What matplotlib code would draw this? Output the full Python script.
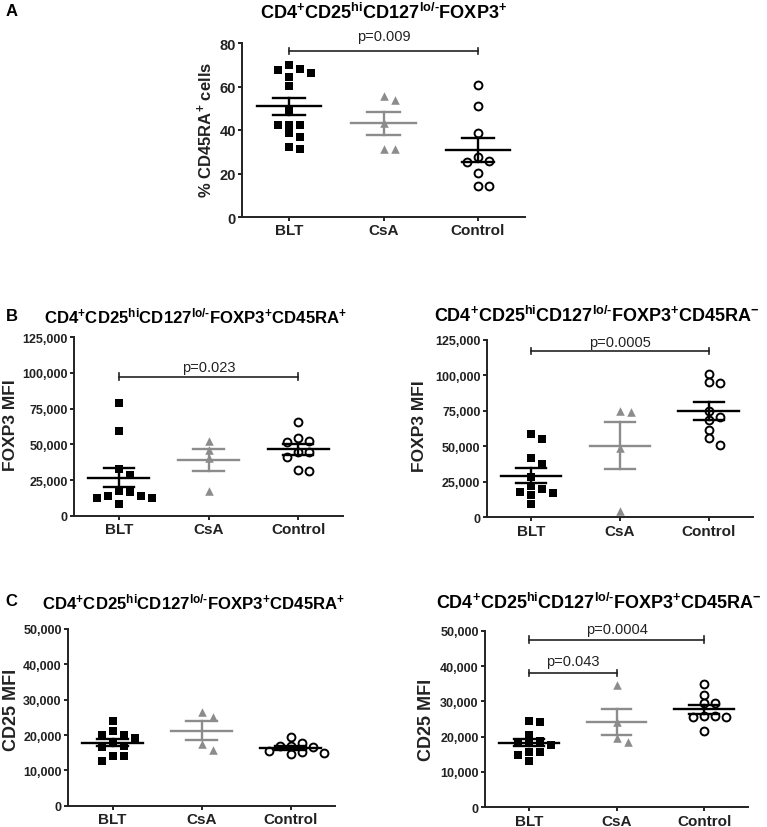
import numpy as np
import matplotlib
matplotlib.use("Agg")
import matplotlib.pyplot as plt
from matplotlib.ticker import FuncFormatter

plt.rcParams['font.family'] = ['Liberation Sans', 'DejaVu Sans']
plt.rcParams['mathtext.fontset'] = 'custom'
plt.rcParams['mathtext.rm'] = 'Liberation Sans:bold'
plt.rcParams['mathtext.it'] = 'Liberation Sans:bold'
plt.rcParams['mathtext.bf'] = 'Liberation Sans:bold'
plt.rcParams['mathtext.default'] = 'rm'

groups = ['BLT', 'CsA', 'Control']

# A: % CD45RA+ cells within CD4+CD25hiCD127lo/-FOXP3+
a_blt = [69.7, 68.0, 67.6, 66.4, 64.2, 60.2, 49.3, 42.5, 42.5, 42.5, 38.5, 36.6, 32.3, 31.1]
a_csa = [55.6, 53.6, 43.4, 31.4, 31.4]
a_ctl = [60.8, 51.0, 38.5, 27.6, 25.9, 25.3, 20.1, 14.3, 14.3]

# B: FOXP3 MFI, CD45RA+ (left) and CD45RA- (right)
b1_blt = [79000, 59600, 32700, 28500, 17200, 16400, 14000, 13600, 12600, 12600, 8200]
b1_csa = [52100, 46000, 40700, 17100]
b1_ctl = [65900, 54200, 52600, 51900, 44400, 44400, 41400, 32200, 31500]

b2_blt = [58400, 55100, 42000, 37500, 28100, 21800, 19900, 18000, 17100, 15700, 9400]
b2_csa = [74600, 73900, 48600, 4200]
b2_ctl = [101000, 95400, 94700, 74800, 70400, 68700, 61200, 55600, 51100]

# C: CD25 MFI, CD45RA+ (left) and CD45RA- (right)
c1_blt = [23900, 21000, 20100, 20100, 19200, 18100, 17000, 16500, 14200, 14000, 12600]
c1_csa = [26400, 25200, 17500, 15800]
c1_ctl = [19300, 17700, 17000, 16800, 16500, 15600, 15100, 14900, 14600]

c2_blt = [24400, 24100, 20600, 18900, 18600, 18400, 17500, 15600, 15600, 14800, 13100]
c2_csa = [34600, 24200, 19500, 18600]
c2_ctl = [34900, 31900, 29500, 29400, 25800, 25800, 25500, 25500, 21500]

GREY = '#8c8c8c'
W, H = 767, 828
fig = plt.figure(figsize=(W / 100, H / 100), dpi=100)


def box(l, t, r, b):
    return [l / W, 1 - b / H, (r - l) / W, (b - t) / H]


def swarm(ax, x0, vals, step_px=11, diam_px=7.5):
    vals = np.asarray(vals, float)
    ys = ax.transData.transform(np.column_stack([np.full(len(vals), x0), vals]))[:, 1]
    placed = []
    cols = np.zeros(len(vals))
    for i in np.argsort(-vals, kind='stable'):
        for c in [0, 1, -1, 2, -2, 3, -3]:
            if all(pc != c or abs(py - ys[i]) >= diam_px for pc, py in placed):
                break
        placed.append((c, ys[i]))
        cols[i] = c
    ppu = ax.transData.transform((1, 0))[0] - ax.transData.transform((0, 0))[0]
    return x0 + cols * step_px / ppu


def panel(pos, data, ymax, ystep, ylabel, ylab_xy, ylab_size, tick_size, xt_size, bars):
    ax = fig.add_axes(pos)
    ax.set_xlim(-0.5, 2.5)
    ax.set_ylim(0, ymax)
    styles = [dict(marker='s', color='black', s=32, lw=0),
              dict(marker='^', color=GREY, s=38, lw=0),
              dict(marker='o', facecolor='white', edgecolor='black', s=32, lw=1.4)]
    for i, (vals, st) in enumerate(zip(data, styles)):
        xs = swarm(ax, i, vals)
        ax.scatter(xs, vals, zorder=3, clip_on=False, **st)
        col = GREY if i == 1 else 'black'
        m = np.mean(vals)
        sem = np.std(vals, ddof=1) / np.sqrt(len(vals))
        ax.plot([i - 0.34, i + 0.34], [m, m], color=col, lw=1.7, zorder=4)
        ax.plot([i - 0.17, i + 0.17], [m + sem] * 2, color=col, lw=1.7, zorder=4)
        ax.plot([i - 0.17, i + 0.17], [m - sem] * 2, color=col, lw=1.7, zorder=4)
        ax.plot([i, i], [m - sem, m + sem], color=col, lw=1.7, zorder=4)
    for x1, x2, yb, yt, label in bars:
        cap = ymax * 0.018
        ax.plot([x1, x2], [yb, yb], color='#222222', lw=1.2, clip_on=False)
        for xx in (x1, x2):
            ax.plot([xx, xx], [yb - cap, yb + cap], color='#222222', lw=1.2, clip_on=False)
        ax.text((x1 + x2) / 2, yt, label, ha='center', va='center', fontsize=10.5,
                color='#222222', clip_on=False)
    for side in ('top', 'right'):
        ax.spines[side].set_visible(False)
    for side in ('left', 'bottom'):
        ax.spines[side].set_linewidth(1.4)
        ax.spines[side].set_color('#222222')
    ax.set_yticks(np.arange(0, ymax + 1, ystep))
    if ymax > 1000:
        ax.yaxis.set_major_formatter(FuncFormatter(lambda v, p: f'{int(v):,}'))
    ax.set_xticks([0, 1, 2])
    ax.set_xticklabels(groups, fontsize=xt_size, fontweight='bold')
    ax.tick_params(axis='y', labelsize=tick_size, width=1.4, length=3, pad=1.5, colors='#222222')
    ax.tick_params(axis='x', width=1.4, length=3, pad=1.5, colors='#222222')
    for t in ax.get_yticklabels():
        t.set_fontweight('bold')
    fig.text(ylab_xy[0] / W, 1 - ylab_xy[1] / H, ylabel, rotation=90, ha='center', va='center',
             fontsize=ylab_size, fontweight='bold', color='#222222')
    return ax


t_base = r'CD4$^{+}$CD25$^{hi}$CD127$^{\text{lo/-}}$FOXP3$^{+}$'

panel(box(242, 44, 525, 218), [a_blt, a_csa, a_ctl], 80, 20,
      r'% CD45RA$^{+}$ cells', (205, 130), 12, 10.5, 11,
      [(0, 2, 76.3, 83.2, 'p=0.009')])
panel(box(74, 338.3, 343, 516.7), [b1_blt, b1_csa, b1_ctl], 125000, 25000,
      'FOXP3 MFI', (11, 425), 12.5, 9, 11, [(0, 2, 97400, 104000, 'p=0.023')])
panel(box(486.7, 340.7, 753, 518.3), [b2_blt, b2_csa, b2_ctl], 125000, 25000,
      'FOXP3 MFI', (419, 426), 12.5, 9, 11, [(0, 2, 117200, 123500, 'p=0.0005')])
panel(box(68, 630, 335, 806.7), [c1_blt, c1_csa, c1_ctl], 50000, 10000,
      'CD25 MFI', (12, 710), 13, 9, 11, [])
panel(box(485, 631.7, 748, 808.3), [c2_blt, c2_csa, c2_ctl], 50000, 10000,
      'CD25 MFI', (426, 720), 13, 9, 11,
      [(0, 2, 47500, 50600, 'p=0.0004'), (0, 1, 38000, 41500, 'p=0.043')])

fig.text(384 / W, 1 - 13 / H, t_base, ha='center', va='center', fontsize=13.1, fontweight='bold')
fig.text(196 / W, 1 - 316 / H, t_base + r'CD45RA$^{+}$', ha='center', va='center',
         fontsize=12.1, fontweight='bold')
fig.text(596.5 / W, 1 - 316 / H, t_base + r'CD45RA$^{-}$', ha='center', va='center',
         fontsize=13, fontweight='bold')
fig.text(194 / W, 1 - 602 / H, t_base + r'CD45RA$^{+}$', ha='center', va='center',
         fontsize=12.1, fontweight='bold')
fig.text(599 / W, 1 - 603 / H, t_base + r'CD45RA$^{-}$', ha='center', va='center',
         fontsize=13, fontweight='bold')
for letter, x, y in [('A', 12, 12), ('B', 12, 317), ('C', 11, 602)]:
    fig.text(x / W, 1 - y / H, letter, ha='center', va='center', fontsize=12, fontweight='bold')

fig.savefig('out.png', dpi=100)
